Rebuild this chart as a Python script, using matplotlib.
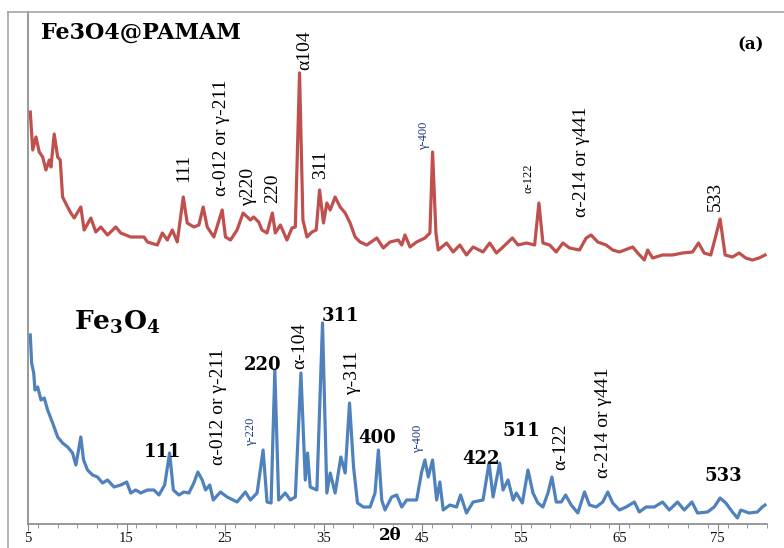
import matplotlib
matplotlib.use("Agg")
import matplotlib.pyplot as plt
from matplotlib.lines import Line2D
from matplotlib.ticker import MultipleLocator

# 2-theta (deg) and intensity (a.u.)
tt_pamam = [5.23, 5.48, 5.81, 6.14, 6.49, 6.82, 7.16, 7.33, 7.66, 8.01, 8.27, 8.51, 9.02, 9.35,
            9.69, 10.36, 10.70, 11.38, 11.88, 12.39, 13.07, 13.91, 14.41, 15.43, 16.77, 17.12,
            18.13, 18.63, 19.14, 19.65, 20.15, 20.76, 21.16, 21.83, 22.34, 22.78, 23.19, 23.86,
            24.71, 25.04, 25.55, 26.22, 26.83, 27.57, 27.90, 28.41, 28.75, 29.26, 29.80, 30.10,
            30.61, 31.28, 31.79, 32.13, 32.56, 32.90, 33.31, 33.82, 34.25, 34.59, 34.99, 35.33,
            35.67, 36.17, 36.68, 37.19, 37.69, 38.20, 38.70, 39.38, 40.40, 41.06, 41.74, 42.58,
            42.93, 43.26, 43.77, 44.44, 45.28, 45.79, 46.06, 46.40, 46.63, 47.48, 48.15, 48.83,
            49.50, 50.17, 51.18, 51.86, 52.54, 53.21, 54.16, 54.73, 55.58, 56.42, 56.85, 57.26,
            57.94, 58.61, 59.28, 59.96, 60.97, 61.65, 62.15, 62.82, 63.67, 64.34, 65.02, 66.37,
            66.88, 67.55, 67.89, 68.39, 69.40, 70.41, 71.43, 72.44, 73.05, 73.62, 74.30, 75.24,
            75.75, 76.49, 77.17, 77.84, 78.51, 79.19, 79.80]
int_pamam = [412, 374, 387, 372, 367, 354, 364, 357, 390, 367, 364, 327, 317, 311,
             306, 317, 294, 306, 292, 297, 289, 297, 291, 287, 287, 282,
             279, 291, 284, 294, 282, 327, 301, 297, 299, 317, 297, 287,
             314, 287, 284, 294, 311, 304, 307, 302, 294, 291, 311, 291,
             299, 284, 296, 297, 451, 304, 287, 292, 294, 334, 301, 321,
             314, 327, 317, 311, 301, 287, 282, 279, 286, 276, 282, 284,
             279, 289, 277, 282, 286, 291, 372, 291, 274, 281, 272, 279,
             269, 277, 272, 281, 271, 277, 286, 279, 281, 279, 321, 281,
             279, 272, 281, 276, 274, 286, 289, 282, 279, 274, 272, 277,
             271, 264, 274, 266, 269, 269, 271, 272, 281, 271, 269, 305,
             269, 267, 271, 266, 264, 266, 269]

tt_fe3o4 = [5.23, 5.37, 5.58, 5.71, 5.98, 6.32, 6.65, 6.99, 7.50, 8.01, 8.51, 9.02, 9.52, 9.86,
            10.36, 10.64, 11.04, 11.55, 12.05, 12.56, 13.07, 13.73, 14.41, 15.02, 15.43, 15.93,
            16.44, 17.12, 17.78, 18.29, 18.87, 19.37, 19.75, 20.31, 20.82, 21.33, 21.83, 22.24,
            22.68, 23.02, 23.45, 23.80, 24.53, 25.21, 26.22, 27.06, 27.57, 28.25, 28.86, 29.26,
            29.67, 30.05, 30.44, 31.11, 31.62, 32.13, 32.70, 33.14, 33.37, 33.64, 34.32, 34.89,
            35.33, 35.67, 36.17, 36.75, 37.19, 37.63, 38.04, 38.44, 39.04, 39.72, 40.22, 40.56,
            40.90, 41.23, 41.91, 42.42, 42.93, 43.43, 44.44, 44.95, 45.28, 45.62, 46.06, 46.47,
            46.80, 47.14, 47.81, 48.49, 48.90, 49.50, 50.17, 51.18, 51.79, 52.20, 52.87, 53.21,
            53.72, 54.23, 54.56, 55.17, 55.74, 56.25, 56.75, 57.26, 57.77, 58.17, 58.61, 59.12,
            59.56, 60.13, 60.80, 61.48, 61.98, 62.66, 63.33, 63.84, 64.34, 65.02, 65.70, 66.54,
            67.04, 67.72, 68.56, 69.40, 70.08, 70.92, 71.60, 72.38, 72.95, 73.97, 74.64, 75.24,
            75.82, 76.49, 77.00, 77.34, 78.18, 79.02, 79.52, 79.80]
int_fe3o4 = [189, 161, 151, 134, 137, 124, 126, 114, 101, 87, 81, 77, 71, 59,
             87, 64, 54, 49, 47, 41, 44, 37, 39, 42, 31, 34,
             31, 34, 34, 29, 39, 71, 34, 29, 32, 31, 41, 52,
             44, 34, 39, 24, 32, 27, 22, 32, 24, 31, 74, 22,
             21, 154, 24, 31, 24, 27, 151, 44, 71, 37, 34, 201,
             31, 51, 31, 67, 51, 121, 57, 21, 17, 17, 31, 74,
             24, 14, 27, 29, 17, 24, 24, 52, 64, 47, 64, 24,
             42, 14, 19, 17, 29, 11, 22, 24, 61, 27, 61, 34,
             44, 24, 31, 21, 54, 31, 21, 17, 31, 47, 22, 22,
             29, 19, 11, 32, 19, 17, 22, 32, 21, 14, 17, 22,
             12, 17, 17, 22, 14, 22, 14, 22, 11, 12, 17, 26,
             21, 12, 6, 14, 11, 12, 17, 19]

x_ticks = [5, 15, 25, 35, 45, 55, 65, 75]

RED = "#C0504D"
BLUE = "#4F81BD"
NAVY = "#1F3B7A"
SERIF = "Liberation Serif"

plt.rcParams["mathtext.fontset"] = "dejavuserif"
plt.rcParams["mathtext.default"] = "bf"

fig = plt.figure(figsize=(7.84, 5.48), dpi=100)

# outer frame of the picture
fig.add_artist(Line2D([8 / 784, 1.0], [1 - 12 / 548, 1 - 12 / 548], transform=fig.transFigure,
                      color="#A6A6A6", lw=1.2))
fig.add_artist(Line2D([8 / 784, 8 / 784], [0.0, 1 - 12 / 548], transform=fig.transFigure,
                      color="#A6A6A6", lw=1.2))

ax = fig.add_axes([28 / 784, 24 / 548, 739 / 784, 512 / 548])
ax.plot(tt_pamam, int_pamam, color=RED, lw=2.3, solid_joinstyle="round")
ax.plot(tt_fe3o4, int_fe3o4, color=BLUE, lw=2.3, solid_joinstyle="round")

ax.set_xlim(5, 80)
ax.set_ylim(0, 512)
ax.set_xticks(x_ticks)
ax.xaxis.set_minor_locator(MultipleLocator(2))
ax.set_yticks([])
for s in ["top", "right"]:
    ax.spines[s].set_visible(False)
ax.spines["left"].set_color("#868686")
ax.spines["bottom"].set_color("#868686")
ax.spines["left"].set_linewidth(1.2)
ax.spines["bottom"].set_linewidth(1.2)
ax.tick_params(axis="x", which="major", length=5, color="#868686", pad=1)
ax.tick_params(axis="x", which="minor", length=3, color="#868686")
for lab in ax.get_xticklabels():
    lab.set_fontfamily(SERIF)
    lab.set_fontsize(10.5)
    lab.set_color("#111111")
ax.text(41.75, -12, "2θ", ha="center", va="center", fontsize=12, fontweight="bold",
        family="DejaVu Serif", clip_on=False)


def px(xp, yp):
    # helper: picture pixel -> data coords
    return 5 + (xp - 27) / 9.88, 524 - yp


def vlabel(xp, yp, s, size=14, color="black"):
    x, y = px(xp, yp)
    ax.text(x, y, s, rotation=90, ha="center", va="center", fontsize=size,
            family=SERIF, color=color)


def hlabel(xp, yp, s, size=13):
    x, y = px(xp, yp)
    ax.text(x, y, s, ha="center", va="center", fontsize=size, fontweight="bold",
            family="DejaVu Serif")


# Fe3O4@PAMAM labels
x, y = px(40, 33)
ax.text(x, y, "Fe3O4@PAMAM", ha="left", va="center", fontsize=16, fontweight="bold",
        family="DejaVu Serif")
x, y = px(752, 45)
ax.text(x, y, "(a)", ha="center", va="center", fontsize=12, fontweight="bold",
        family="DejaVu Serif")
vlabel(183, 168, "111")
vlabel(221, 138, "α-012 or γ-211")
vlabel(248, 187, "γ220")
vlabel(272, 188, "220")
vlabel(305, 50, "α104")
vlabel(320, 165, "311")
vlabel(424, 136, "γ-400", size=9, color=NAVY)
vlabel(529, 178, "α-122", size=9)
vlabel(582, 162, "α-214 or γ441")
vlabel(716, 196, "533")

# Fe3O4 labels
x, y = px(117, 322)
ax.text(x, y, r"Fe$_3$O$_4$", ha="center", va="center", fontsize=19, fontweight="bold",
        family="DejaVu Serif")
hlabel(162, 452, "111")
vlabel(218, 407, "α-012 or γ-211")
vlabel(251, 432, "γ-220", size=9, color=NAVY)
hlabel(262, 365, "220")
vlabel(299, 346, "α-104")
hlabel(340, 316, "311")
vlabel(352, 373, "γ-311")
hlabel(377, 438, "400")
vlabel(418, 439, "γ-400", size=9, color=NAVY)
hlabel(481, 459, "422")
hlabel(522, 431, "511")
vlabel(561, 447, "α-122")
vlabel(604, 423, "α-214 or γ441")
hlabel(724, 476, "533")

fig.savefig("out.png", dpi=100)
